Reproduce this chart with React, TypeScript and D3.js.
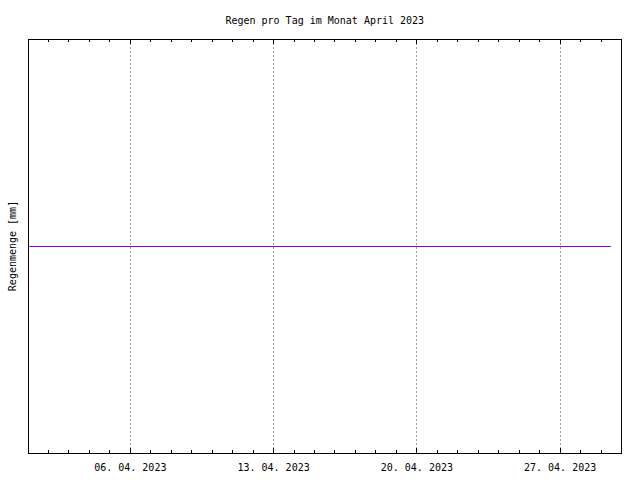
import React from "react";
import * as d3 from "d3";

const title = "Regen pro Tag im Monat April 2023";
const yLabel = "Regenmenge [mm]";
const xDomain = ["2023-04-01T00:00:00", "2023-04-30T00:00:00"];
const yDomain = [-1, 1];
const times = [
  "2023-04-01T00:00:00", "2023-04-02T00:00:00", "2023-04-03T00:00:00", "2023-04-04T00:00:00",
  "2023-04-05T00:00:00", "2023-04-06T00:00:00", "2023-04-07T00:00:00", "2023-04-08T00:00:00",
  "2023-04-09T00:00:00", "2023-04-10T00:00:00", "2023-04-11T00:00:00", "2023-04-12T00:00:00",
  "2023-04-13T00:00:00", "2023-04-14T00:00:00", "2023-04-15T00:00:00", "2023-04-16T00:00:00",
  "2023-04-17T00:00:00", "2023-04-18T00:00:00", "2023-04-19T00:00:00", "2023-04-20T00:00:00",
  "2023-04-21T00:00:00", "2023-04-22T00:00:00", "2023-04-23T00:00:00", "2023-04-24T00:00:00",
  "2023-04-25T00:00:00", "2023-04-26T00:00:00", "2023-04-27T00:00:00", "2023-04-28T00:00:00",
  "2023-04-29T00:00:00", "2023-04-29T12:00:00",
];
const rain = [
  0, 0, 0, 0, 0, 0, 0, 0, 0, 0, 0, 0, 0, 0, 0, 0, 0, 0, 0, 0, 0, 0, 0, 0, 0, 0, 0, 0, 0, 0,
];
const majorTicks = ["2023-04-06T00:00:00", "2023-04-13T00:00:00", "2023-04-20T00:00:00", "2023-04-27T00:00:00"];

const W = 640, H = 480;
const L = 28, R = 621.5, T = 39, B = 453;
const FONT = "'DejaVu Sans Mono', monospace";

export default function App() {
  const parse = (s: string) => new Date(s);
  const x = d3.scaleTime().domain(xDomain.map(parse)).range([L, R]);
  const y = d3.scaleLinear().domain(yDomain).range([B, T]);
  const fmt = d3.timeFormat("%d. %m. %Y");
  const data = times.map((t, i) => ({ t: parse(t), v: rain[i] }));
  const line = d3.line<{ t: Date; v: number }>().x(d => x(d.t)).y(d => Math.round(y(d.v)) + 0.5);
  const minor = d3.timeDay.range(parse(xDomain[0]), parse(xDomain[1]));
  const majors = majorTicks.map(parse);
  const px = (d: Date) => Math.floor(x(d)) + 0.5;

  return (
    <svg width={W} height={H} style={{ position: "absolute", left: 0, top: 0, background: "#fff" }}
      fontFamily={FONT} fontSize={10}>
      <rect x={0} y={0} width={W} height={H} fill="#fff" />
      {majors.map((d, i) => (
        <line key={"g" + i} x1={px(d)} x2={px(d)} y1={T} y2={B} stroke="#a0a0a0"
          strokeDasharray="2,2" shapeRendering="crispEdges" />
      ))}
      {minor.map((d, i) => (
        <g key={"m" + i} shapeRendering="crispEdges" stroke="#000">
          <line x1={px(d)} x2={px(d)} y1={B} y2={B - 3} />
          <line x1={px(d)} x2={px(d)} y1={T} y2={T + 3} />
        </g>
      ))}
      {majors.map((d, i) => (
        <g key={"M" + i} shapeRendering="crispEdges" stroke="#000">
          <line x1={px(d)} x2={px(d)} y1={B} y2={B - 5} />
          <line x1={px(d)} x2={px(d)} y1={T} y2={T + 5} />
        </g>
      ))}
      <path d={line(data) || ""} fill="none" stroke="#9400d3" strokeWidth={1} shapeRendering="crispEdges" />
      <rect x={L + 0.5} y={T + 0.5} width={Math.floor(R) - L} height={B - T} fill="none"
        stroke="#000" shapeRendering="crispEdges" />
      {majors.map((d, i) => (
        <text key={"t" + i} x={x(d)} y={470.5} textAnchor="middle" fill="#000">{fmt(d)}</text>
      ))}
      <text x={(L + R) / 2} y={24} textAnchor="middle" fill="#000">{title}</text>
      <text transform={`translate(15.5, ${(T + B) / 2}) rotate(-90)`} textAnchor="middle" fill="#000">{yLabel}</text>
    </svg>
  );
}
